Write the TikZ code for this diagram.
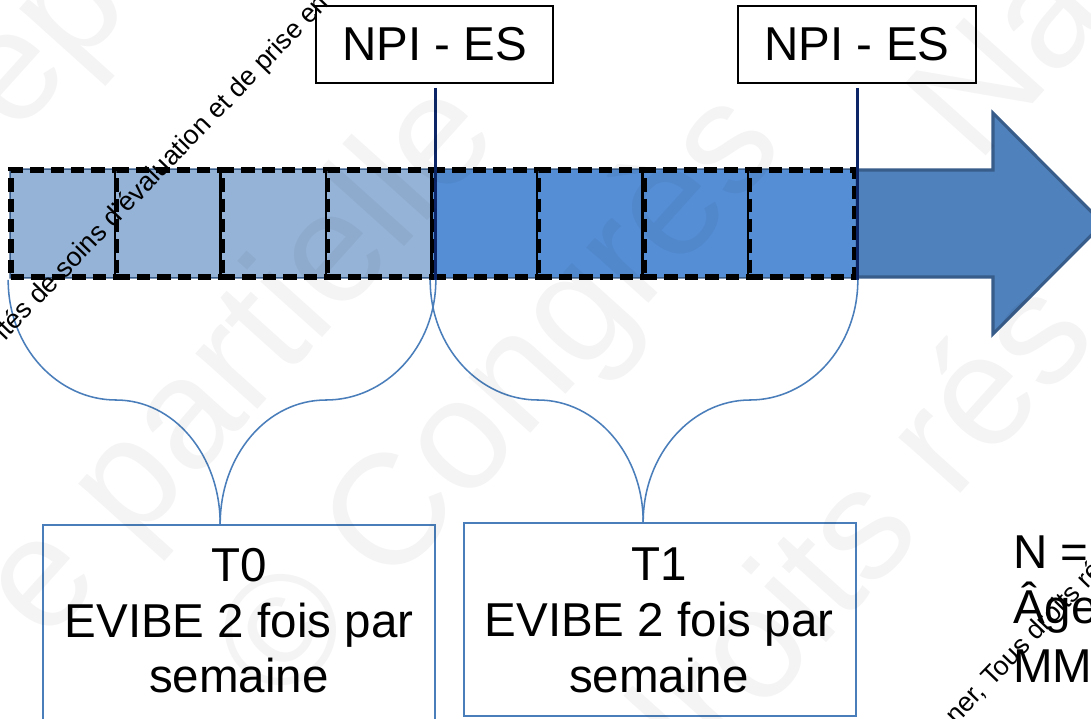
\documentclass[tikz,border=0pt]{standalone}
\usepackage{fontspec}
\setmainfont{Liberation Sans}
\usetikzlibrary{calc}
\definecolor{lightsq}{HTML}{95B3D7}
\definecolor{darksq}{HTML}{558ED5}
\definecolor{arrowfill}{HTML}{4F81BD}
\definecolor{arrowedge}{HTML}{385D8A}
\definecolor{braceblue}{HTML}{4A7EBB}
\definecolor{navyline}{HTML}{0B2566}
\newcommand{\diagfont}{\fontsize{33.8}{39.5}\selectfont}
\newcommand{\wmfont}{\fontsize{112}{112}\selectfont}
\newcommand{\tinywm}{\fontsize{19}{22}\selectfont}
\begin{document}
\begin{tikzpicture}[x=0.025cm,y=-0.025cm,
  sqbase/.style={minimum width=2.6375cm, minimum height=2.675cm, inner sep=0pt, draw=black, line width=4pt, dash pattern=on 9.5pt off 5pt},
  sqlight/.style={sqbase, fill=lightsq},
  sqdark/.style={sqbase, fill=darksq},
  npibox/.style={draw=black, line width=1.3pt, fill=white, minimum width=5.93cm, minimum height=1.925cm, inner sep=0pt, font=\diagfont},
  tbox/.style={draw=braceblue, line width=1.1pt, minimum width=9.8cm, inner sep=0pt},
  brace/.style={draw=braceblue, line width=1.1pt},
  marker/.style={draw=navyline, line width=2.2pt},
  ttext/.style={font=\diagfont, align=center, inner sep=0pt, anchor=north},
  sidetext/.style={font=\diagfont, inner sep=0pt, anchor=base west},
  wm/.style={font=\wmfont, text=black, text opacity=0.045, rotate=48, inner sep=0pt},
  smallwm/.style={font=\tinywm, text=black, rotate=46, inner sep=0pt}
]
\useasboundingbox (0,0) rectangle (1091,718);
\fill[white] (0,0) rectangle (1091,718);

% big arrow
\filldraw[fill=arrowfill, draw=arrowedge, line width=2.2pt]
  (11,170) -- (993,170) -- (993,113) -- (1103,223.5) -- (993,334) -- (993,277) -- (11,277) -- cycle;

% squares
\node[sqlight] (sq1) at (63.75,223.5) {};
\node[sqlight] (sq2) at (169.25,223.5) {};
\node[sqlight] (sq3) at (274.75,223.5) {};
\node[sqlight] (sq4) at (380.25,223.5) {};
\node[sqdark] (sq5) at (485.75,223.5) {};
\node[sqdark] (sq6) at (591.25,223.5) {};
\node[sqdark] (sq7) at (696.75,223.5) {};
\node[sqdark] (sq8) at (802.25,223.5) {};

% NPI - ES boxes
\node[npibox] (npi1) at (434.5,44.5) {NPI - ES};
\node[npibox] (npi2) at (857,44.5) {NPI - ES};

% markers
\draw[marker] ($(sq4.south east |- npi1.south)+(0,4)$) -- (sq4.south east);
\draw[marker] ($(sq8.south east |- npi2.south)+(0,4)$) -- (sq8.south east);

% T boxes
\node[tbox, minimum height=5.125cm] (t0) at (239,627.5) {};
\node[tbox, minimum height=4.825cm] (t1) at (660,619.5) {};
\node[ttext] (t0txt) at (239,548) {T0\\EVIBE 2 fois par\\semaine};
\node[ttext] (t1txt) at (659,548) {T1\\EVIBE 2 fois par\\semaine};

% braces
\coordinate (tip0) at ($(t0.north west)+(178,0)$);
\coordinate (tip1) at ($(t1.north west)+(180,0)$);
\draw[brace] (sq1.south west) .. controls +(0,68) and +(-58,0) .. (116,400)
  .. controls +(58,0) and +(0,-69) .. (tip0);
\draw[brace] (tip0) .. controls +(0,-69) and +(-59,0) .. (326,400)
  .. controls +(59,0) and +(0,68) .. (sq4.south east);
\draw[brace] (sq5.south west) .. controls +(0,68) and +(-58,0) .. (538,400)
  .. controls +(58,0) and +(0,-68) .. (tip1);
\draw[brace] (tip1) .. controls +(0,-68) and +(-58,0) .. (750,400)
  .. controls +(58,0) and +(0,68) .. (sq8.south east);

% side texts
\node[sidetext] (n) at (1013,568) {N =};
\node[sidetext] (age) at (1013,623) {Âge};
\node[sidetext] (mm) at (1013,682) {MM};

% small rotated texts
\node[smallwm] (w1) at (175,155) {ités de soins d’évaluation et de prise en ch};
\node[smallwm] (w2) at (1024,643) {ner, Tous droits ré};

% faint watermark
\node[wm] (wa) at (55,55) {ep};
\node[wm] (wb) at (244,364) {e partielle};
\node[wm] (wc) at (504,401) {© Congrès};
\node[wm] (wd) at (841,541) {droits rés};
\node[wm] (we) at (1005,55) {Na};
\end{tikzpicture}
\end{document}
